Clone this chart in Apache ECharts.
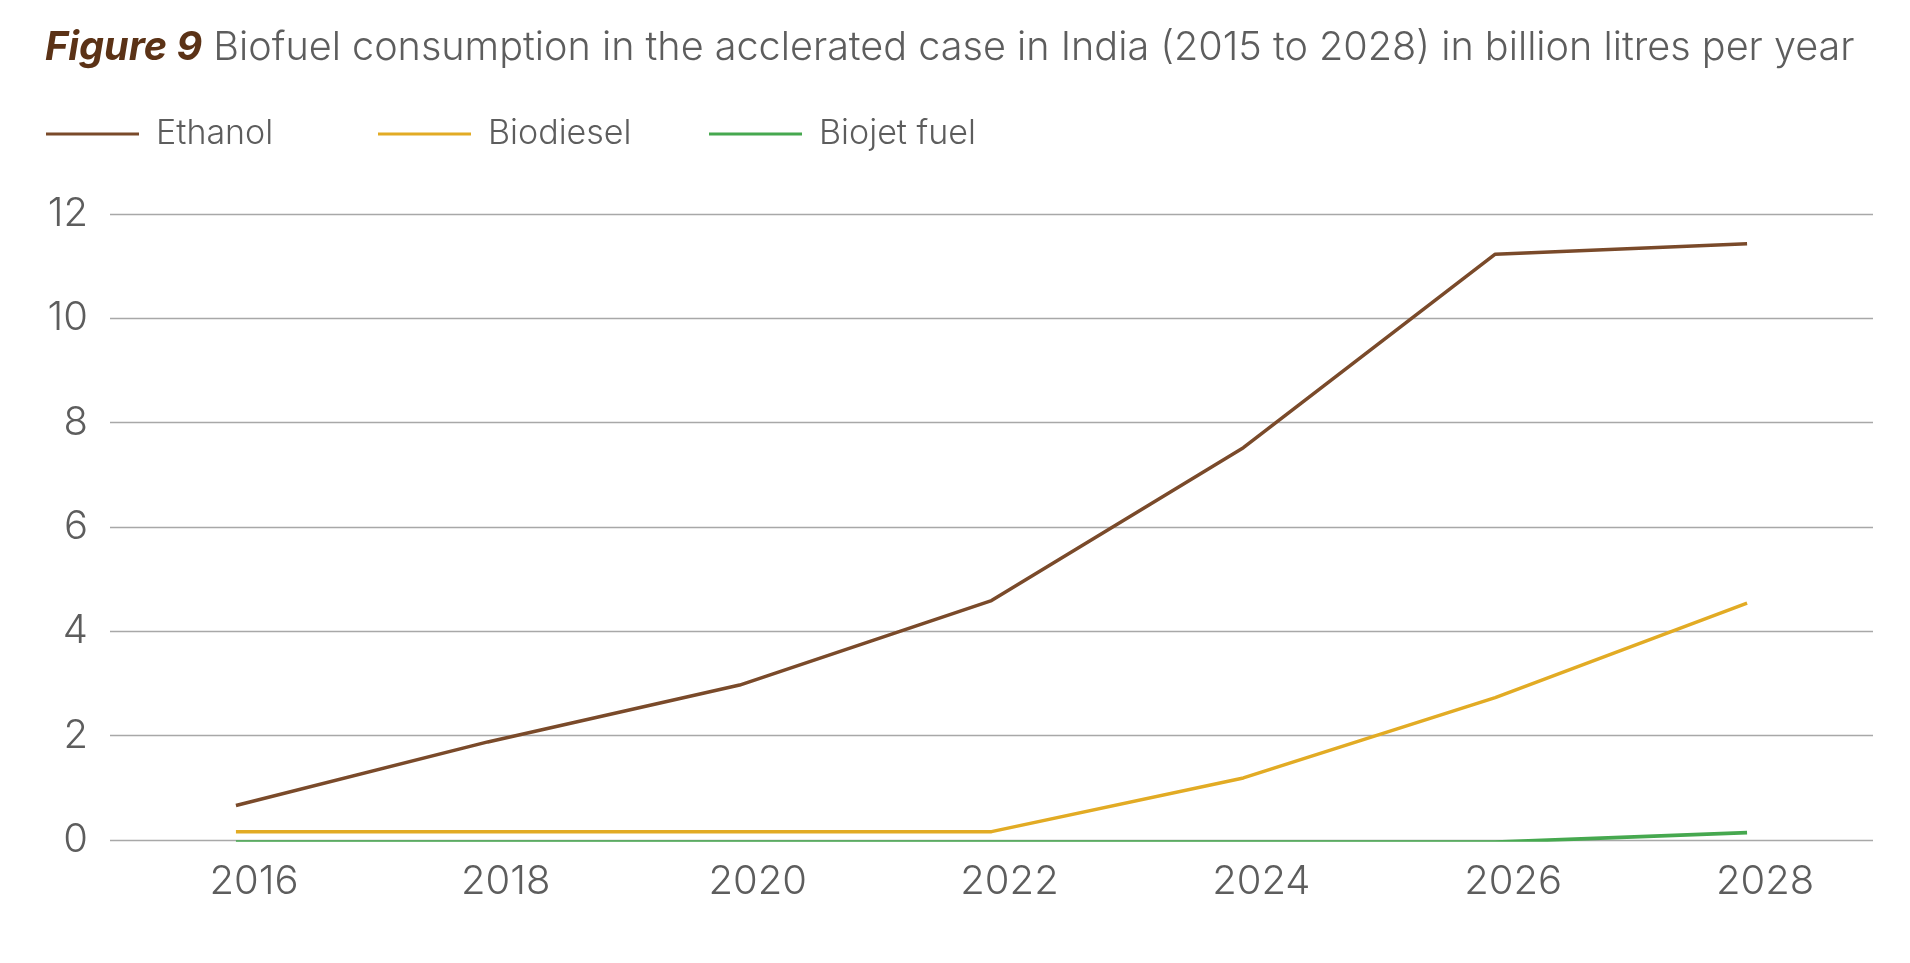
<!DOCTYPE html>
<html>
<head>
<meta charset="utf-8">
<script src="https://cdn.jsdelivr.net/npm/echarts@6/dist/echarts.min.js"></script>
<style>
html,body{margin:0;padding:0;background:#fff;}
#chart{width:1910px;height:963px;}
</style>
</head>
<body>
<div id="chart"></div>
<script>
// ---- data ----
const years = [2016, 2018, 2020, 2022, 2024, 2026, 2028];
const ethanol = [0.66, 1.88, 2.97, 4.59, 7.52, 11.23, 11.43];
const biodiesel = [0.16, 0.16, 0.16, 0.16, 1.19, 2.73, 4.54];
const biojet = [-0.04, -0.04, -0.04, -0.04, -0.04, -0.04, 0.14];
const seriesNames = ['Ethanol', 'Biodiesel', 'Biojet fuel'];
const xTickLabels = [2016, 2018, 2020, 2022, 2024, 2026, 2028];
const yTicks = [0, 2, 4, 6, 8, 10, 12];

const colors = ['#7a4a2a', '#e2ab24', '#46a84f'];
const font = 'Inter, Roboto, sans-serif';
const grey = '#5d5d5d';
const legendLefts = [46, 378, 709];

function pairs(vals){ return years.map((y,i)=>[y, vals[i]]); }

const chart = echarts.init(document.getElementById('chart'));
chart.setOption({
  animation: false,
  backgroundColor: '#ffffff',
  title: {
    left: 45, top: 28, padding: 0,
    text: '{a|Figure 9}{b| Biofuel consumption in the acclerated case in India (2015 to 2028) in billion litres per year}',
    textStyle: {
      rich: {
        a: { fontFamily: font, fontSize: 39.6, fontWeight: 'bold', fontStyle: 'italic', color: '#5b3216' },
        b: { fontFamily: font, fontSize: 39.6, fontWeight: 300, color: grey }
      }
    }
  },
  legend: seriesNames.map((n, i) => ({
    left: legendLefts[i], top: 117, padding: 0,
    icon: 'rect',
    itemWidth: 93, itemHeight: 3,
    data: [n],
    textStyle: { fontFamily: font, fontSize: 34, fontWeight: 300, color: grey, padding: [0,0,0,12] }
  })),
  grid: { left: 110, right: 37, top: 214, bottom: 123 },
  xAxis: {
    type: 'value', min: 2015, max: 2029,
    axisLine: { show: false }, axisTick: { show: false }, splitLine: { show: false },
    axisLabel: {
      customValues: xTickLabels,
      formatter: v => String(v),
      fontFamily: font, fontSize: 40, fontWeight: 300, color: grey,
      margin: 22, padding: [0,0,0,36]
    }
  },
  yAxis: {
    type: 'value', min: 0, max: 12, interval: 2,
    axisLine: { show: false }, axisTick: { show: false },
    splitLine: { lineStyle: { color: '#a8a8a8', width: 1.3 } },
    axisLabel: {
      customValues: yTicks,
      fontFamily: font, fontSize: 40, fontWeight: 300, color: grey, margin: 22
    }
  },
  series: [
    { name: seriesNames[0], type: 'line', data: pairs(ethanol), showSymbol: false, symbol: 'none',
      color: colors[0], lineStyle: { width: 3.5, color: colors[0] } },
    { name: seriesNames[1], type: 'line', data: pairs(biodiesel), showSymbol: false, symbol: 'none',
      color: colors[1], lineStyle: { width: 3.5, color: colors[1] } },
    { name: seriesNames[2], type: 'line', data: pairs(biojet), showSymbol: false, symbol: 'none',
      color: colors[2], lineStyle: { width: 3.7, color: colors[2] } }
  ]
});
</script>
</body>
</html>
